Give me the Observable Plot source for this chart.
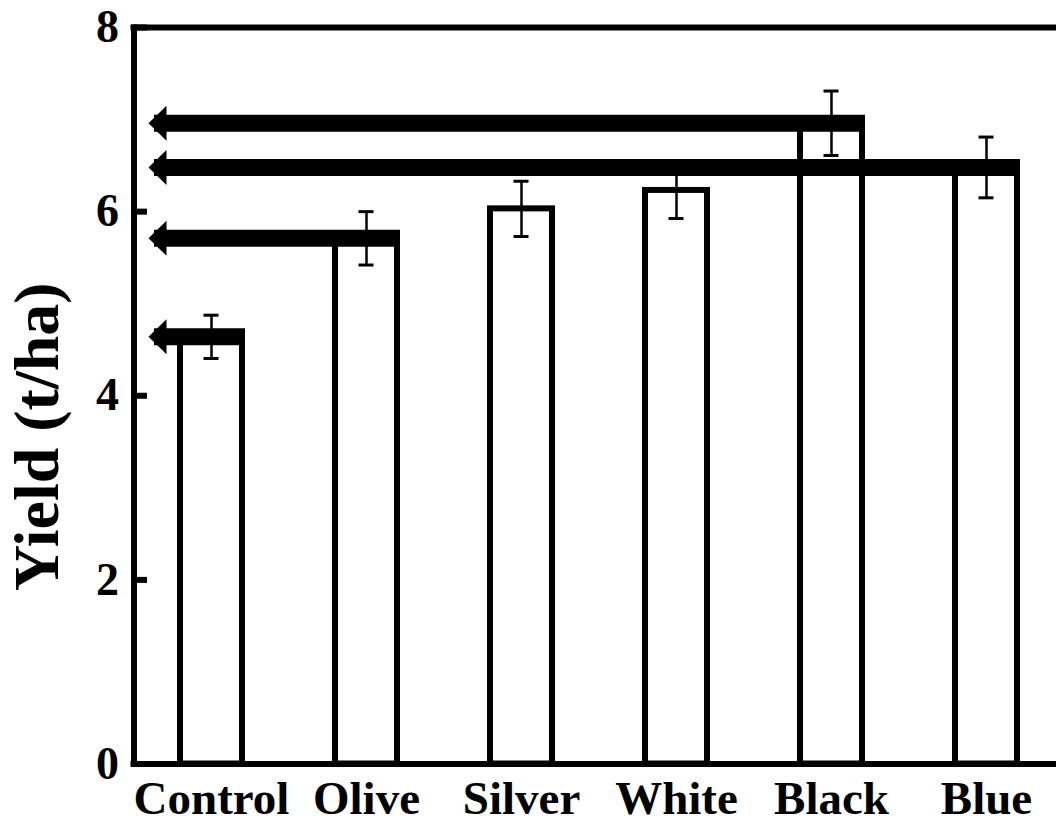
<!DOCTYPE html>
<html>
<head>
<meta charset="utf-8">
<script src="https://cdn.jsdelivr.net/npm/d3@7"></script>
<script src="https://cdn.jsdelivr.net/npm/@observablehq/plot@0.6"></script>
<style>
  html, body { margin: 0; padding: 0; background: #fff; overflow: hidden; }
  #chart svg { display: block; }
</style>
</head>
<body>
<div id="chart"></div>
<script>
// ---- data ----
const categories = ["Control", "Olive", "Silver", "White", "Black", "Blue"];
const yieldMeans = [4.64, 5.71, 6.03, 6.23, 6.96, 6.48];
const yieldErrors = [0.235, 0.29, 0.30, 0.305, 0.35, 0.33];
const arrowCategories = ["Control", "Olive", "Black", "Blue"];
const yTicks = [0, 2, 4, 6, 8];
const yLabel = "Yield (t/ha)";

const rows = categories.map((c, i) => ({cat: c, v: yieldMeans[i], e: yieldErrors[i]}));
const arrowRows = rows.filter(d => arrowCategories.includes(d.cat));

const FONT = "'Liberation Serif', 'Times New Roman', serif";

// left-pointing filled arrowhead
const arrowHead = {
  draw(ctx) {
    ctx.moveTo(-9, 0);
    ctx.lineTo(9, -17.5);
    ctx.lineTo(9, 17.5);
    ctx.closePath();
  }
};

const W = 1056, H = 823;
const mL = 133.5, mT = 27, mB = 59.5;

const chart = Plot.plot({
  width: W,
  height: H,
  marginLeft: mL,
  marginRight: 0,
  marginTop: mT,
  marginBottom: mB,
  style: {background: "#fff", color: "#000", fontFamily: FONT},
  x: {type: "band", domain: categories, range: [mL, mL + 930], paddingInner: 0.6, paddingOuter: 0.3},
  y: {domain: [0, 8], label: null},
  marks: [
    // bars
    Plot.barY(rows, {x: "cat", y: "v", fill: "#fff", stroke: "#000", strokeWidth: 6}),
    // arrows (shaft + head): shaft runs from near the axis to the bar's right edge
    Plot.ruleY(arrowRows, {y: "v", x1: () => categories[0], x2: "cat", stroke: "#000", strokeWidth: 17, insetLeft: -26, insetRight: -3}),
    Plot.dot(arrowRows, {y: "v", frameAnchor: "left", dx: 23.5, symbol: arrowHead, fill: "#000", stroke: "none"}),
    // error bars
    Plot.ruleX(rows, {x: "cat", y1: d => d.v - d.e, y2: d => d.v + d.e, stroke: "#000", strokeWidth: 2.5}),
    Plot.tickY(rows, {x: "cat", y: d => d.v + d.e, stroke: "#000", strokeWidth: 3, insetLeft: 23.5, insetRight: 23.5}),
    Plot.tickY(rows, {x: "cat", y: d => d.v - d.e, stroke: "#000", strokeWidth: 3, insetLeft: 23.5, insetRight: 23.5}),
    // frame: top & bottom lines, left spine
    Plot.ruleY([0, 8], {stroke: "#000", strokeWidth: 6, strokeLinecap: "square"}),
    Plot.frame({anchor: "left", stroke: "#000", strokeWidth: 6, strokeLinecap: "square"}),
    // inward y ticks
    Plot.ruleY(yTicks, {stroke: "#000", strokeWidth: 6, insetRight: W - mL - 13.5}),
    // axes labels
    Plot.axisY({ticks: yTicks, tickSize: 0, tickPadding: 15, fontSize: 46, fontWeight: "bold", fontFamily: FONT, label: null, fill: "#000"}),
    Plot.axisX({tickSize: 0, tickPadding: 17, fontSize: 47, fontWeight: "bold", fontFamily: FONT, label: null, fill: "#000"}),
    Plot.text([yLabel], {text: d => d, frameAnchor: "left", textAnchor: "middle", rotate: -90, dx: -96, dy: 41, fontSize: 64, fontWeight: "bold", fontFamily: FONT, fill: "#000"})
  ]
});

document.getElementById("chart").appendChild(chart);
</script>
</body>
</html>
